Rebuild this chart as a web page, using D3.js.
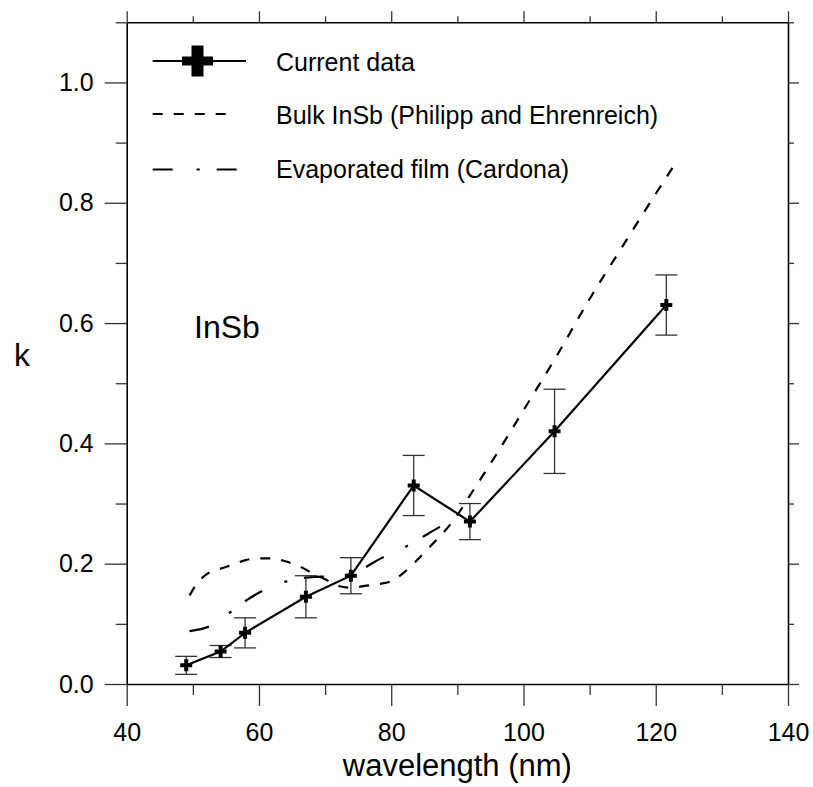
<!DOCTYPE html>
<html>
<head>
<meta charset="utf-8">
<script src="https://cdn.jsdelivr.net/npm/d3@7"></script>
<style>
  html, body { margin: 0; padding: 0; background: #fff; }
  svg { display: block; font-family: "Liberation Sans", Arial, sans-serif; }
</style>
</head>
<body>
<svg id="chart" width="813" height="787"></svg>
<script>
// ---- data ----
const wavelength = [49, 54.2, 57.9, 67.1, 73.9, 83.4, 91.9, 104.7, 121.6];
const kValues    = [0.031, 0.054, 0.085, 0.145, 0.18, 0.33, 0.27, 0.42, 0.63];
const kErrors    = [0.015, 0.01, 0.025, 0.035, 0.03, 0.05, 0.03, 0.07, 0.05];

const bulkX = [49.5, 50.5, 52, 54, 56, 58, 60, 62, 64, 66, 68, 70, 72, 74, 76, 78, 80, 82, 84, 86, 88, 90, 92, 95, 100, 105, 110, 115, 120, 123];
const bulkK = [0.147, 0.165, 0.182, 0.191, 0.198, 0.206, 0.209, 0.209, 0.204, 0.196, 0.185, 0.174, 0.163, 0.160, 0.163, 0.166, 0.171, 0.186, 0.207, 0.230, 0.253, 0.281, 0.315, 0.366, 0.455, 0.545, 0.640, 0.728, 0.815, 0.866];

const cardX = [49.5, 52.5, 55.5, 58.5, 61.5, 65, 68.5, 71.5, 75, 78.3, 81.5, 84.5, 87.5, 89.5];
const cardK = [0.088, 0.096, 0.118, 0.142, 0.160, 0.173, 0.178, 0.179, 0.188, 0.208, 0.224, 0.243, 0.262, 0.273];

const xMajor = [40, 60, 80, 100, 120, 140];
const xMinor = [50, 70, 90, 110, 130];
const yMajor = [0, 0.2, 0.4, 0.6, 0.8, 1.0];
const yMinor = [0.1, 0.3, 0.5, 0.7, 0.9, 1.1];

const legendLabels = ["Current data", "Bulk InSb (Philipp and Ehrenreich)", "Evaporated film (Cardona)"];
const xTitle = "wavelength (nm)";
const yTitle = "k";
const panelLabel = "InSb";

// ---- layout ----
const svg = d3.select("#chart");
const L = 126.7, R = 788, T = 22.3, B = 684;
const x = d3.scaleLinear().domain([40, 140]).range([L, R]);
const y = d3.scaleLinear().domain([0, 1.1]).range([B, T]);

function styleAxis(g, showDomain) {
  g.selectAll(".tick line").attr("stroke", "#333").attr("stroke-width", 1.3);
  g.select(".domain").attr("stroke", "#000").attr("stroke-width", 1.6)
    .attr("display", showDomain ? null : "none");
  g.selectAll("text").attr("fill", "#000");
}

// bottom
const gxb = svg.append("g").attr("transform", `translate(0,${B})`)
  .call(d3.axisBottom(x).tickValues(xMajor).tickSize(22).tickSizeOuter(0).tickPadding(17).tickFormat(d3.format("d")));
styleAxis(gxb, true);
gxb.selectAll("text").attr("font-size", 25);
const gxbm = svg.append("g").attr("transform", `translate(0,${B})`)
  .call(d3.axisBottom(x).tickValues(xMinor).tickSize(11).tickSizeOuter(0).tickFormat(""));
styleAxis(gxbm, false);

// top
const gxt = svg.append("g").attr("transform", `translate(0,${T})`)
  .call(d3.axisTop(x).tickValues(xMajor).tickSize(11).tickSizeOuter(0).tickFormat(""));
styleAxis(gxt, true);
const gxtm = svg.append("g").attr("transform", `translate(0,${T})`)
  .call(d3.axisTop(x).tickValues(xMinor).tickSize(6).tickSizeOuter(0).tickFormat(""));
styleAxis(gxtm, false);

// left
const gyl = svg.append("g").attr("transform", `translate(${L},0)`)
  .call(d3.axisLeft(y).tickValues(yMajor).tickSize(22).tickSizeOuter(0).tickPadding(11).tickFormat(d3.format(".1f")));
styleAxis(gyl, true);
gyl.selectAll("text").attr("font-size", 25);
const gylm = svg.append("g").attr("transform", `translate(${L},0)`)
  .call(d3.axisLeft(y).tickValues(yMinor).tickSize(11).tickSizeOuter(0).tickFormat(""));
styleAxis(gylm, false);

// right
const gyr = svg.append("g").attr("transform", `translate(${R},0)`)
  .call(d3.axisRight(y).tickValues(yMajor).tickSize(11).tickSizeOuter(0).tickFormat(""));
styleAxis(gyr, true);
const gyrm = svg.append("g").attr("transform", `translate(${R},0)`)
  .call(d3.axisRight(y).tickValues(yMinor).tickSize(6).tickSizeOuter(0).tickFormat(""));
styleAxis(gyrm, false);

// titles
svg.append("text").attr("x", (L + R) / 2).attr("y", 776).attr("text-anchor", "middle")
  .attr("font-size", 31).text(xTitle);
svg.append("text").attr("x", 22).attr("y", 366).attr("text-anchor", "middle")
  .attr("font-size", 32).text(yTitle);
svg.append("text").attr("x", 194).attr("y", 338).attr("font-size", 32).text(panelLabel);

// ---- curves ----
const line = d3.line().x(d => x(d[0])).y(d => y(d[1])).curve(d3.curveMonotoneX);
const bulk = bulkX.map((v, i) => [v, bulkK[i]]);
const card = cardX.map((v, i) => [v, cardK[i]]);

svg.append("path").attr("d", line(bulk)).attr("fill", "none").attr("stroke", "#000")
  .attr("stroke-width", 2.2).attr("stroke-dasharray", "10,11");
svg.append("path").attr("d", line(card)).attr("fill", "none").attr("stroke", "#000")
  .attr("stroke-width", 2.2).attr("stroke-dasharray", "20,24,3,17");

// error bars
const pts = wavelength.map((v, i) => ({ x: v, k: kValues[i], e: kErrors[i] }));
const eb = svg.append("g").attr("stroke", "#333").attr("stroke-width", 1.3);
pts.forEach(p => {
  const cx = x(p.x), y1 = y(p.k + p.e), y2 = y(p.k - p.e);
  eb.append("line").attr("x1", cx).attr("x2", cx).attr("y1", y1).attr("y2", y2);
  eb.append("line").attr("x1", cx - 11).attr("x2", cx + 11).attr("y1", y1).attr("y2", y1);
  eb.append("line").attr("x1", cx - 11).attr("x2", cx + 11).attr("y1", y2).attr("y2", y2);
});

// data line
const dline = d3.line().x(d => x(d.x)).y(d => y(d.k));
svg.append("path").attr("d", dline(pts)).attr("fill", "none").attr("stroke", "#000").attr("stroke-width", 2.2);

// markers
const crossSmall = d3.symbol().type(d3.symbolCross).size(5 * Math.pow(12 / 3, 2));
svg.append("g").selectAll("path").data(pts).join("path")
  .attr("transform", d => `translate(${x(d.x)},${y(d.k)})`)
  .attr("d", crossSmall).attr("fill", "#000");

// ---- legend ----
const lg = svg.append("g");
const lx1 = 152.7, lx2 = 246, ltx = 276;
const rowsY = [61, 114, 169.5];
const textY = [70.5, 124, 178];
const lcx = 197.5;
lg.append("line").attr("x1", lx1).attr("x2", lx2).attr("y1", rowsY[0]).attr("y2", rowsY[0])
  .attr("stroke", "#000").attr("stroke-width", 2.2);
lg.append("rect").attr("x", lcx - 15.5).attr("y", rowsY[0] - 4.5).attr("width", 31).attr("height", 9).attr("fill", "#000");
lg.append("rect").attr("x", lcx - 6).attr("y", rowsY[0] - 15.5).attr("width", 12).attr("height", 31).attr("fill", "#000");
lg.append("line").attr("x1", lx1).attr("x2", lx2 - 20).attr("y1", rowsY[1]).attr("y2", rowsY[1])
  .attr("stroke", "#000").attr("stroke-width", 2.2).attr("stroke-dasharray", "10,11");
lg.append("line").attr("x1", lx1).attr("x2", 237).attr("y1", rowsY[2]).attr("y2", rowsY[2])
  .attr("stroke", "#000").attr("stroke-width", 2.2).attr("stroke-dasharray", "20,24,3,17");
legendLabels.forEach((t, i) => {
  lg.append("text").attr("x", ltx).attr("y", textY[i]).attr("font-size", 25).text(t);
});
</script>
</body>
</html>
